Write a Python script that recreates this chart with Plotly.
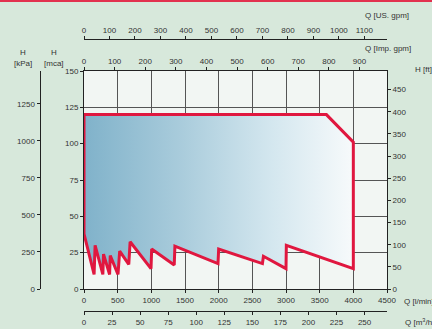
import plotly.graph_objects as go

# Envelope of the operating field (Q in l/min, H in mca)
q_lpm = [0, 150, 165, 280, 290, 380, 390, 505, 530, 665, 685, 995, 1005, 1340, 1350,
         1990, 2000, 2650, 2665, 3000, 3005, 4000, 4000, 3600, 0, 0]
h_mca = [38, 10, 30, 10, 24, 10, 23, 10, 26, 17, 32.5, 14, 27.5, 16.5, 29.5,
         17.5, 27.5, 17.5, 22.5, 14, 30, 14, 101, 120, 120, 38]

# Axis ticks
q_lpm_ticks = [0, 500, 1000, 1500, 2000, 2500, 3000, 3500, 4000, 4500]
q_m3h_ticks = [0, 25, 50, 75, 100, 125, 150, 175, 200, 225, 250]
q_imp_ticks = [0, 100, 200, 300, 400, 500, 600, 700, 800, 900]
q_us_ticks = [0, 100, 200, 300, 400, 500, 600, 700, 800, 900, 1000, 1100]
h_mca_ticks = [0, 25, 50, 75, 100, 125, 150]
h_kpa_ticks = [0, 250, 500, 750, 1000, 1250]
h_ft_ticks = [0, 50, 100, 150, 200, 250, 300, 350, 400, 450]

Q_MAX = 4500.0
H_MAX = 150.0

W, Hpx = 432, 329
x0, x1 = 84, 387
ytop, ybot = 71, 289
xdom = [x0 / W, x1 / W]
ydom = [(Hpx - ybot) / Hpx, (Hpx - ytop) / Hpx]

FONT = dict(family="Liberation Sans, Arial, sans-serif", size=8, color="#333333")
RED = "#e0173f"

fig = go.Figure()
fig.add_trace(go.Scatter(
    x=q_lpm, y=h_mca, mode="lines", fill="toself",
    fillgradient=dict(type="horizontal", start=0, stop=4000,
                      colorscale=[[0, "#80b2ca"], [0.35, "#a8cbdb"],
                                  [0.7, "#d4e7ef"], [1, "#f7fafb"]]),
    line=dict(color=RED, width=3), hoverinfo="skip", showlegend=False))

axis_common = dict(showline=True, linecolor="#222222", linewidth=1, ticks="outside",
                   ticklen=3, tickcolor="#222222", tickfont=FONT, zeroline=False,
                   showgrid=False, fixedrange=True, automargin=False)

fig.update_layout(
    width=W, height=Hpx, margin=dict(l=0, r=0, t=0, b=0, autoexpand=False),
    paper_bgcolor="#d7e8db", plot_bgcolor="#f2f6f3",
    showlegend=False, font=FONT,
    xaxis=dict(domain=xdom, range=[0, Q_MAX], tickvals=q_lpm_ticks, mirror=True,
               showgrid=True, gridcolor="#555555", gridwidth=1,
               **{k: v for k, v in axis_common.items() if k != "showgrid"}),
    yaxis=dict(domain=ydom, range=[0, H_MAX], tickvals=h_mca_ticks, mirror=True,
               showgrid=True, gridcolor="#555555", gridwidth=1,
               **{k: v for k, v in axis_common.items() if k != "showgrid"}),
    # Imp. gpm (top of plot)
    xaxis2=dict(overlaying="x", side="top", anchor="y", range=[0, Q_MAX / 4.54609],
                tickvals=q_imp_ticks, **axis_common),
    # US gpm (free, above)
    xaxis3=dict(overlaying="x", side="top", anchor="free", position=(Hpx - 39) / Hpx,
                range=[0, Q_MAX / 3.785411784], tickvals=q_us_ticks, **axis_common),
    # m3/h (free, below)
    xaxis4=dict(overlaying="x", side="bottom", anchor="free", position=(Hpx - 311) / Hpx,
                range=[0, Q_MAX * 0.06], tickvals=q_m3h_ticks, **axis_common),
    # H ft (right)
    yaxis2=dict(overlaying="y", side="right", anchor="x", range=[0, H_MAX * 3.28084],
                tickvals=h_ft_ticks, **axis_common),
    # H kPa (free, left)
    yaxis3=dict(overlaying="y", side="left", anchor="free", position=39.5 / W,
                range=[0, H_MAX * 9.80665], tickvals=h_kpa_ticks, **axis_common),
)

# dummy invisible traces so the extra axes are drawn
for xa, ya in [("x2", "y"), ("x3", "y"), ("x4", "y"), ("x", "y2"), ("x", "y3")]:
    fig.add_trace(go.Scatter(x=[None], y=[None], xaxis=xa, yaxis=ya,
                             hoverinfo="skip", showlegend=False))

def ann(text, x, y, xanchor="center"):
    fig.add_annotation(text=text, x=x / W, y=(Hpx - y) / Hpx, xref="paper", yref="paper",
                       showarrow=False, xanchor=xanchor, yanchor="middle", font=FONT)

ann("Q [US. gpm]", 411, 15, "right")
ann("Q [Imp. gpm]", 413, 48, "right")
ann("H", 23, 52)
ann("[kPa]", 23, 63)
ann("H", 54, 52)
ann("[mca]", 54, 63)
ann("H [ft]", 413, 70, "left")
ann("Q [l/min]", 402, 301, "left")
ann("Q [m<sup>3</sup>/h]", 403, 322, "left")

fig.add_shape(type="rect", xref="paper", yref="paper", x0=0, x1=1,
              y0=1 - 2 / Hpx, y1=1, fillcolor="#e2314f", line=dict(width=0))

fig.write_html("out.html", config={"displayModeBar": False, "staticPlot": True},
               post_script="document.body.style.margin='0';document.body.style.overflow='hidden';")
